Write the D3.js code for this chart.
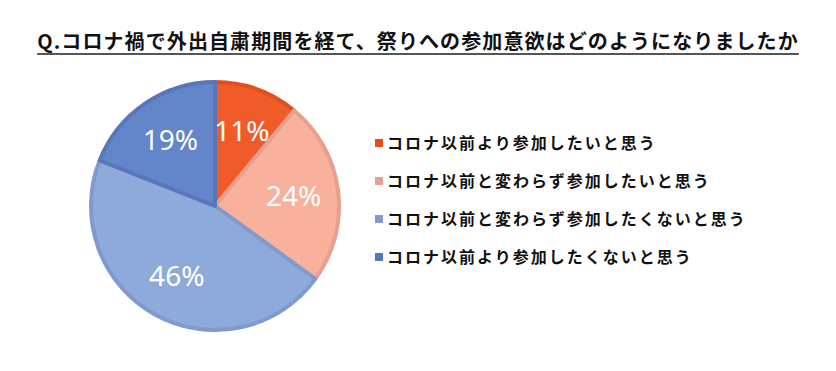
<!DOCTYPE html>
<html>
<head>
<meta charset="utf-8">
<script src="https://cdn.jsdelivr.net/npm/d3@7"></script>
<style>
  body { margin: 0; background: #fff; }
  svg { display: block; font-family: "Noto Sans CJK JP", "Noto Sans", sans-serif; }
</style>
</head>
<body>
<svg id="chart" width="836" height="371"></svg>
<script>
const titleText = "Q.コロナ禍で外出自粛期間を経て、祭りへの参加意欲はどのようになりましたか";
const categories = [
    "コロナ以前より参加したいと思う",
    "コロナ以前と変わらず参加したいと思う",
    "コロナ以前と変わらず参加したくないと思う",
    "コロナ以前より参加したくないと思う"
];
const values = [11, 24, 46, 19];
const fills = ["#f15a29", "#f8b19c", "#8eaadb", "#6385c9"];
const strokes = ["#e0501f", "#e7a08e", "#7f9acb", "#5877ba"];

let svg = d3.select('#chart');

// title with underline
let title = svg.append('text')
    .attr('x', 418)
    .attr('y', 49)
    .attr('text-anchor', 'middle')
    .style('font-size', '20px')
    .style('font-weight', 'bold')
    .style('letter-spacing', '1.1px')
    .attr('fill', '#111')
    .text(titleText);

let bb = title.node().getBBox();
svg.append('line')
    .attr('x1', bb.x)
    .attr('x2', bb.x + bb.width)
    .attr('y1', 54)
    .attr('y2', 54)
    .attr('stroke', '#555')
    .attr('stroke-width', 2);

// pie
let cx = 215, cy = 206, radius = 124;

let pie = d3.pie().sort(null).value(function(d) { return d; });
let arc = d3.arc().innerRadius(0).outerRadius(radius);
let labelArc = d3.arc().innerRadius(radius * 0.64).outerRadius(radius * 0.64);

let g = svg.append('g').attr('transform', 'translate(' + [cx, cy] + ')');
let arcs = pie(values);

g.selectAll('path')
    .data(arcs)
    .enter()
    .append('path')
    .attr('d', arc)
    .attr('fill', function(d, i) { return fills[i]; })
    .attr('stroke', function(d, i) { return strokes[i]; })
    .attr('stroke-width', 4)
    .attr('stroke-linejoin', 'round');

g.selectAll('text')
    .data(arcs)
    .enter()
    .append('text')
    .attr('transform', function(d) { return 'translate(' + labelArc.centroid(d) + ')'; })
    .attr('text-anchor', 'middle')
    .attr('dy', '0.36em')
    .attr('fill', '#fff')
    .style('font-size', '28px')
    .style('font-family', '"Noto Sans", "DejaVu Sans", sans-serif')
    .text(function(d) { return d.data + '%'; });

// legend
let legendY = d3.scalePoint().domain(d3.range(categories.length)).range([143, 257]);

let legend = svg.selectAll('g.legend')
    .data(categories)
    .enter()
    .append('g')
    .attr('class', 'legend')
    .attr('transform', function(d, i) { return 'translate(' + [375, legendY(i)] + ')'; });

legend.append('rect')
    .attr('x', 0)
    .attr('y', -4)
    .attr('width', 8)
    .attr('height', 8)
    .attr('fill', function(d, i) { return strokes[i]; });

legend.append('text')
    .attr('x', 12)
    .attr('dy', '0.36em')
    .style('font-size', '16px')
    .style('font-weight', 'bold')
    .style('letter-spacing', '2px')
    .attr('fill', '#111')
    .text(function(d) { return d; });
</script>
</body>
</html>
